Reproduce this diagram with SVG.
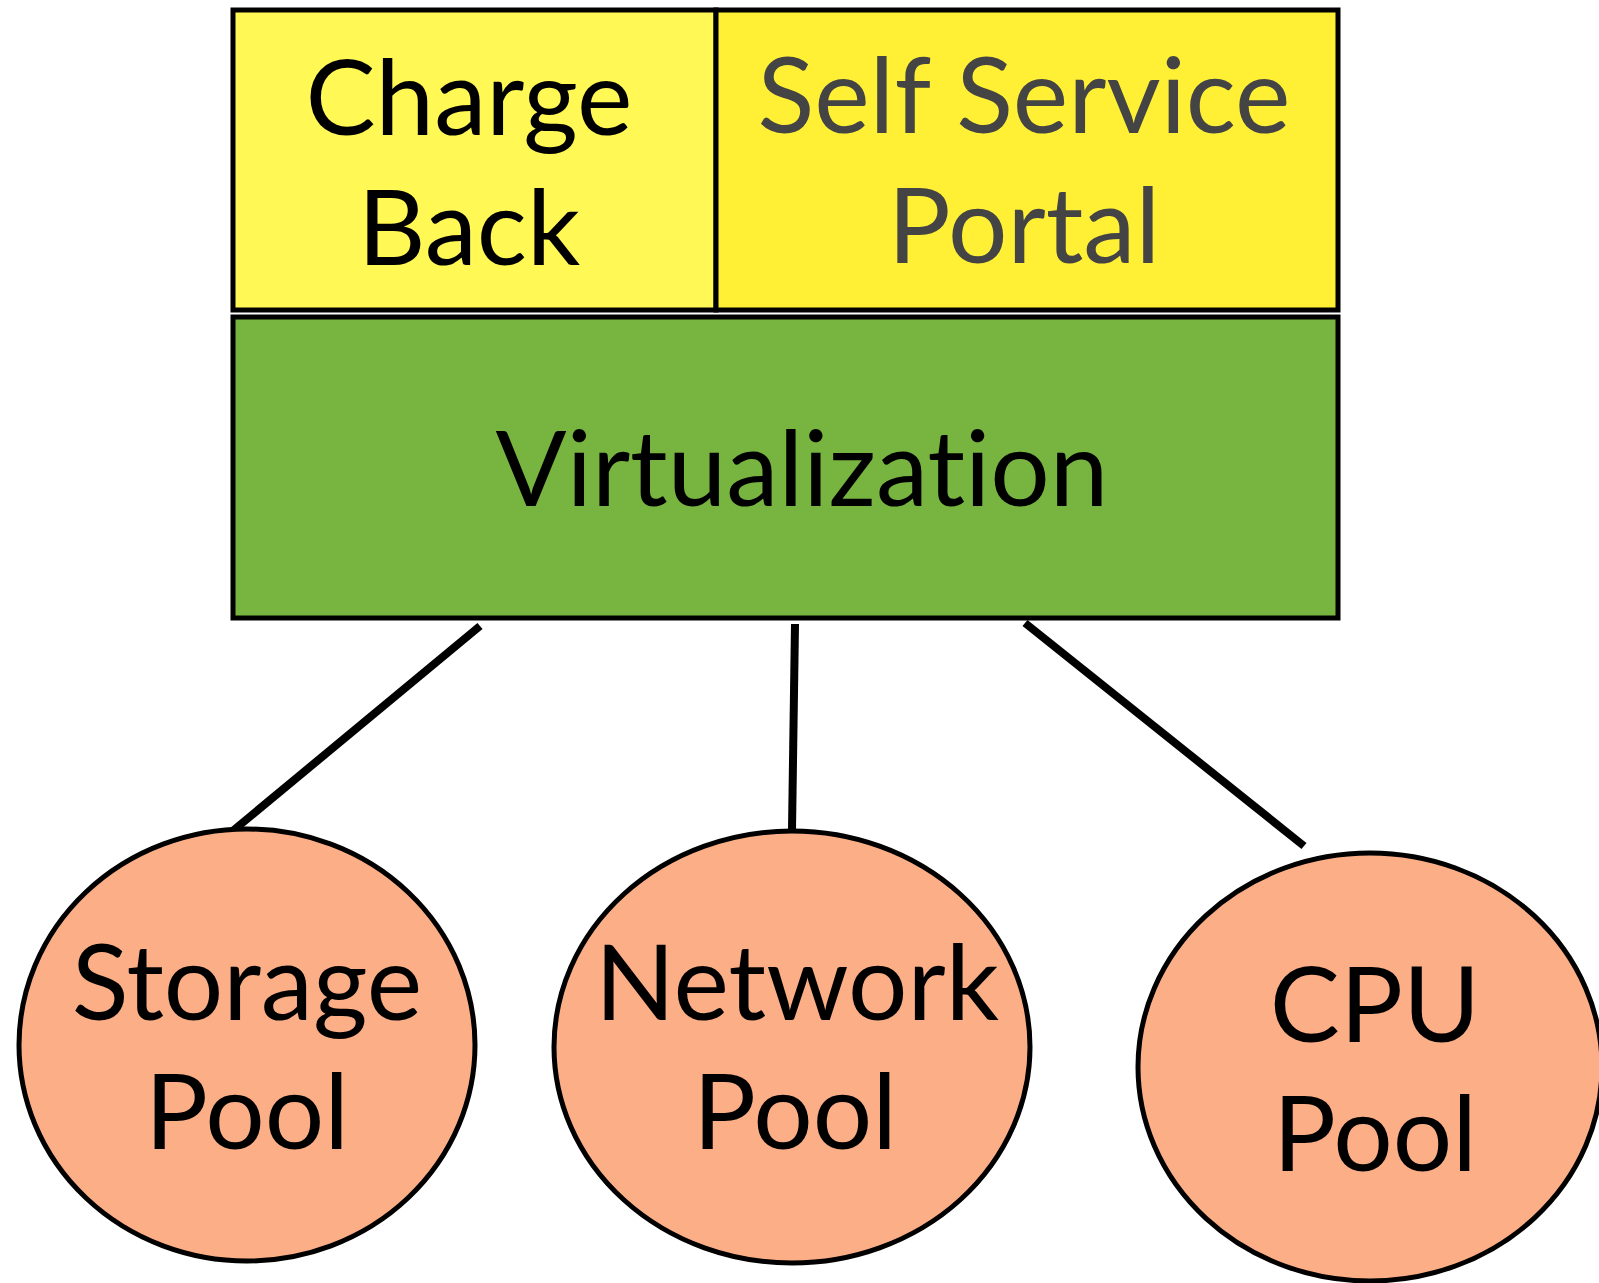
<svg xmlns="http://www.w3.org/2000/svg" width="1599" height="1283" viewBox="0 0 1599 1283">
<style>
.box{stroke:#000;stroke-width:5}
.t{font-family:Lato,"Open Sans","Liberation Sans",sans-serif;font-size:105px;text-anchor:middle;fill:#000;font-variant-ligatures:none;font-feature-settings:"liga" 0}
.pool{fill:#FCAE87;stroke:#000;stroke-width:5}
.conn{stroke:#000;stroke-width:8;fill:none}
</style>
<rect width="1599" height="1283" fill="#fff"/>
<g id="charge-back">
<rect class="box" x="233" y="10" width="483" height="300" fill="#FFF855"/>
<text class="t" x="469" y="135">Charge</text>
<text class="t" x="469" y="265">Back</text>
</g>
<g id="self-service-portal">
<rect class="box" x="716" y="10" width="622" height="300" fill="#FFF035"/>
<text class="t" x="1024" y="133" style="fill:#444">Self Service</text>
<text class="t" x="1024" y="263" style="fill:#444">Portal</text>
</g>
<g id="virtualization">
<rect class="box" x="233" y="317" width="1105" height="301" fill="#77B540"/>
<text class="t" x="802" y="506">Virtualization</text>
</g>
<g id="connectors">
<line class="conn" x1="480" y1="626" x2="229" y2="834"/>
<line class="conn" x1="795" y1="624" x2="792" y2="830"/>
<line class="conn" x1="1025" y1="623" x2="1304" y2="846"/>
</g>
<g id="storage-pool">
<ellipse class="pool" cx="247" cy="1045" rx="228" ry="216"/>
<text class="t" x="247" y="1020">Storage</text>
<text class="t" x="247" y="1149">Pool</text>
</g>
<g id="network-pool">
<ellipse class="pool" cx="792" cy="1047" rx="238" ry="216"/>
<text class="t" x="797" y="1020">Network</text>
<text class="t" x="795" y="1149">Pool</text>
</g>
<g id="cpu-pool">
<ellipse class="pool" cx="1370" cy="1067" rx="232" ry="214"/>
<text class="t" x="1375" y="1042">CPU</text>
<text class="t" x="1375" y="1171">Pool</text>
</g>
</svg>
